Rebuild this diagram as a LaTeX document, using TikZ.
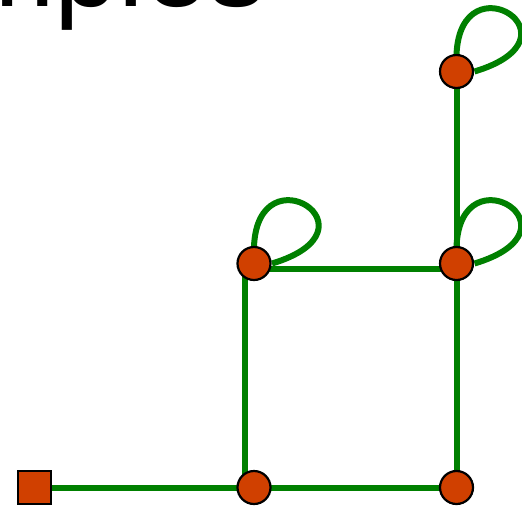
\documentclass[tikz,border=0pt]{standalone}
\usepackage{fontspec}
\setmainfont{Liberation Sans}
\usetikzlibrary{calc}
\definecolor{edgegreen}{RGB}{0,128,0}
\definecolor{nodefill}{RGB}{208,64,0}
\tikzset{
  vert/.style={circle, draw=black, line width=2.2pt, fill=nodefill, minimum size=33pt, inner sep=0pt},
  sqvert/.style={rectangle, draw=black, line width=2.2pt, fill=nodefill, minimum size=33pt, inner sep=0pt},
  edge/.style={draw=edgegreen, line width=6pt},
}
\begin{document}
\begin{tikzpicture}[x=1pt,y=-1pt]
\useasboundingbox (0,0) rectangle (522,507);
\node[anchor=base east, inner sep=0pt, font=\fontsize{115}{120}\selectfont] (title) at (266,6.5) {Examples};
% node positions
\coordinate (pS) at (34.5,487.5);
\coordinate (pA) at (254,487.5);
\coordinate (pB) at (456.5,487.5);
\coordinate (pC) at (254,263.5);
\coordinate (pD) at (456.5,263.5);
\coordinate (pE) at (456.5,71.5);
\coordinate (lA) at (245,487.5);
\coordinate (lC) at (245,263.5);
\coordinate (hC) at (254,268.5);
\coordinate (hD) at (456.5,268.5);
% edges
\draw[edge] (pS) -- (pA) -- (pB);
\draw[edge] (lA) -- (lC);
\draw[edge] (hC) -- (hD);
\draw[edge] (pE) -- (pB);
% loops
\foreach \p in {pC,pD,pE}{
  \draw[edge] ($(\p)+(0,-17)$) .. controls ($(\p)+(4,-114)$) and ($(\p)+(131,-34)$) .. ($(\p)+(18,0)$);
}
% nodes
\node[sqvert] (S) at (pS) {};
\node[vert] (A) at (pA) {};
\node[vert] (B) at (pB) {};
\node[vert] (C) at (pC) {};
\node[vert] (D) at (pD) {};
\node[vert] (E) at (pE) {};
\end{tikzpicture}
\end{document}
